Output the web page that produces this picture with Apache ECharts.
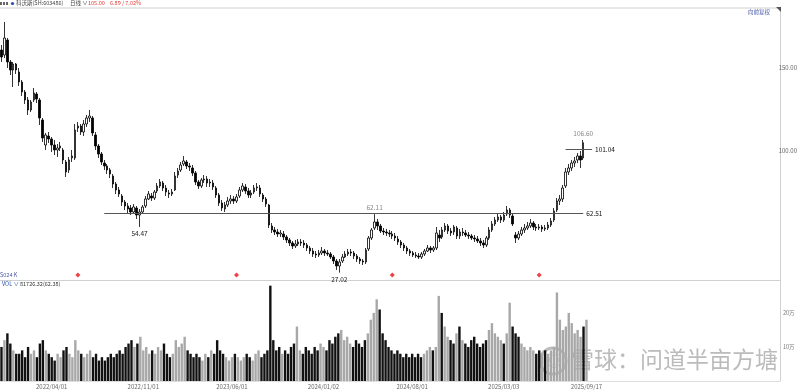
<!DOCTYPE html>
<html><head><meta charset="utf-8">
<script src="https://cdn.jsdelivr.net/npm/echarts@6/dist/echarts.min.js"></script>
<style>html,body{margin:0;padding:0;background:#fff}#c{width:800px;height:390px}</style>
</head><body><div id="c"></div>
<script>
// ---- data (weekly candles) ----
const startWeek = [2021, 10, 29];   // first week (Mon 2021-11-29)
const totalSlots = 264;              // week slots on the axis (data + empty right margin)
// [open, close, low, high]
const ohlc = [
[160.6,156.4,153.4,163.6],[157.6,167.8,155.8,177.4],[166.6,153.4,149.8,167.8],[153.4,148.6,145.6,154.6],[148.6,152.2,138.4,153.4],
[152.2,148.6,146.2,152.8],[147.4,141.4,139.0,149.8],[141.4,135.4,133.0,142.6],[135.4,130.6,128.2,136.6],[130.6,124.6,121.6,132.4],
[124.6,129.4,123.4,130.6],[130.6,134.8,129.4,137.8],[134.2,131.2,128.8,135.4],[130.6,119.8,115.6,131.8],[118.6,107.8,105.4,119.8],
[103.6,109.6,100.6,110.8],[109.0,107.2,104.8,111.4],[107.2,103.6,99.4,108.4],[103.6,100.6,97.6,106.6],[100.6,101.8,96.4,104.2],
[101.8,103.0,100.0,105.4],[100.6,94.6,92.2,101.8],[93.4,87.4,84.4,94.6],[88.6,94.6,86.8,96.4],[95.8,97.0,93.4,100.6],
[95.8,112.6,94.6,116.2],[113.8,115.0,111.4,117.4],[115.0,111.4,109.6,116.2],[111.4,116.2,109.0,118.6],[116.2,119.8,114.4,121.6],
[119.8,121.0,117.4,124.6],[119.8,110.8,109.0,121.0],[109.6,103.0,100.6,111.4],[103.0,98.2,95.8,104.2],[98.2,93.4,91.6,99.4],
[92.8,91.0,88.6,94.6],[91.0,88.6,86.2,92.2],[88.6,86.2,83.8,89.8],[85.0,80.2,77.8,86.2],[80.2,76.6,74.2,81.4],
[76.6,74.2,72.4,78.4],[73.0,69.4,67.0,74.2],[69.4,67.0,64.6,70.6],[67.0,65.2,62.8,68.8],[65.8,63.4,61.6,67.6],
[63.4,66.4,62.2,68.2],[65.8,61.6,59.2,67.0],[61.6,63.4,54.47,65.2],[63.4,66.4,62.2,67.6],[67.0,71.2,65.8,73.0],
[71.2,74.2,70.6,76.0],[73.0,71.8,70.0,74.8],[71.8,75.4,70.6,76.6],[76.0,79.0,74.8,80.8],[79.0,81.4,77.8,83.2],
[80.8,77.8,76.0,82.0],[77.8,75.4,73.0,79.6],[74.8,74.2,71.8,76.6],[74.2,75.4,73.0,77.2],[76.6,85.0,76.0,87.4],
[85.6,88.0,83.8,89.8],[88.6,91.6,87.4,93.4],[92.2,94.0,91.0,97.0],[93.4,91.0,89.2,94.6],[91.0,90.4,88.0,92.8],
[89.8,86.8,85.0,91.6],[86.8,81.4,79.6,88.0],[81.4,79.0,77.2,82.6],[79.0,82.6,77.8,83.8],[82.6,83.2,80.8,85.6],
[83.2,80.8,78.4,85.0],[80.8,81.4,78.4,83.2],[80.8,78.4,76.6,82.6],[77.8,73.6,71.8,79.0],[73.6,68.8,67.0,74.8],
[68.8,65.8,64.0,70.6],[65.2,67.6,63.4,69.4],[67.6,70.0,66.4,72.4],[70.0,71.2,68.2,73.6],[71.2,70.0,68.2,73.0],
[70.0,72.4,68.8,74.2],[73.0,76.6,71.8,78.4],[76.6,79.0,75.4,80.8],[78.4,76.0,74.2,80.2],[76.0,73.6,71.8,77.8],
[73.6,74.8,71.8,76.6],[75.4,77.8,74.2,79.6],[77.8,78.4,76.0,80.8],[77.8,74.2,72.4,79.6],[73.6,71.2,69.4,74.8],
[71.2,68.2,66.4,72.4],[67.6,55.6,53.8,68.2],[55.0,52.6,50.8,56.8],[52.6,51.4,49.6,54.4],[51.4,50.2,48.4,53.2],
[50.2,50.8,48.4,52.6],[50.2,48.4,46.6,52.0],[48.4,46.6,44.8,49.6],[46.6,44.8,43.0,47.8],[44.8,43.0,41.2,46.0],
[43.0,44.2,41.8,46.6],[44.2,45.4,43.0,47.2],[45.4,44.8,43.0,47.2],[44.8,43.6,41.8,46.6],[43.6,41.8,40.0,44.8],
[41.8,40.0,38.2,43.0],[40.0,38.2,36.4,41.8],[38.2,37.6,35.8,40.0],[37.6,38.8,36.4,40.6],[38.8,40.0,37.6,42.4],
[40.0,38.8,37.0,41.2],[38.8,38.2,37.0,40.6],[38.2,36.4,35.2,39.4],[36.4,34.0,32.2,37.6],[34.0,31.0,28.6,35.2],
[31.0,33.4,27.02,35.2],[34.0,36.4,32.8,38.2],[36.4,38.2,35.8,40.0],[38.2,39.4,37.0,41.2],[39.4,38.8,37.0,41.2],
[38.8,37.0,35.2,40.0],[37.0,35.2,33.4,38.2],[35.2,34.0,32.2,36.4],[34.0,33.4,31.6,35.2],[33.4,40.6,32.2,41.8],
[41.2,47.8,40.0,49.0],[47.8,52.6,46.6,53.8],[53.8,57.4,52.6,62.11],[57.4,55.0,52.6,59.2],[55.0,52.0,50.8,56.2],
[52.0,51.4,49.6,53.8],[51.4,50.8,49.0,53.2],[50.8,50.2,48.4,52.6],[50.2,49.0,47.2,52.0],[49.0,47.8,46.0,50.8],
[47.2,45.4,43.6,49.0],[45.4,43.6,41.8,46.6],[43.6,41.8,40.0,44.8],[41.8,40.0,38.2,43.0],[40.0,38.8,37.0,41.2],
[38.8,37.6,36.4,40.0],[37.6,37.0,35.8,39.4],[37.0,36.4,35.2,38.8],[36.4,38.2,35.2,39.4],[38.2,40.0,37.0,41.2],
[40.0,41.8,39.4,43.6],[41.8,40.6,38.8,43.0],[40.6,41.8,39.4,43.0],[41.8,50.8,40.6,54.4],[49.6,47.8,45.4,52.6],
[48.4,52.6,47.2,54.4],[52.6,55.0,51.4,56.8],[55.0,52.0,50.2,56.2],[52.0,50.8,49.0,53.8],[51.4,54.4,49.6,55.6],
[53.8,49.0,47.2,55.0],[49.0,51.4,47.2,53.2],[51.4,50.8,49.0,53.8],[50.8,49.6,48.4,52.6],[49.6,49.0,47.2,51.4],
[49.0,47.8,46.6,50.2],[47.8,47.2,45.4,49.6],[47.2,46.0,44.8,49.0],[46.0,44.8,43.0,47.8],[44.8,43.6,41.8,46.6],
[43.6,47.8,42.4,49.0],[47.8,52.6,46.6,54.4],[52.6,56.2,51.4,58.0],[56.2,58.6,55.0,60.4],[58.6,60.4,57.4,62.2],
[60.4,58.6,56.8,61.6],[58.6,61.6,57.4,63.4],[62.2,64.6,61.0,67.0],[64.6,61.6,59.8,65.8],[61.0,56.2,55.0,62.8],
[49.6,47.8,44.8,51.4],[47.8,50.2,46.6,52.0],[50.2,52.6,49.0,54.4],[52.6,53.8,50.8,56.2],[53.8,55.0,52.6,57.4],
[55.0,56.8,53.8,59.2],[56.8,54.4,52.6,58.0],[54.4,53.8,52.0,56.2],[53.8,54.4,52.6,56.2],[54.4,53.2,51.4,55.6],
[53.2,53.8,52.0,55.6],[53.8,55.6,52.6,57.4],[55.6,58.0,54.4,59.8],[58.6,64.0,57.4,65.8],[64.6,70.0,63.4,71.8],
[70.0,71.2,67.6,73.6],[71.2,77.8,69.4,79.6],[79.0,87.4,77.8,89.8],[87.4,89.8,85.6,92.2],[89.8,92.8,88.0,94.6],
[92.8,94.0,90.4,96.4],[94.6,97.0,92.8,98.8],[97.0,94.6,89.8,100.0],[95.8,105.0,94.6,106.6]
];
// typical daily volume for each week, in 万股
const volumeWan = [
10,12,14,11,9,8,
8,9,7,10,8,9,7,11,12,9,8,
7,6,8,7,9,10,8,7,12,9,8,7,8,9,
7,8,6,7,6,7,8,7,8,9,8,10,11,12,
10,11,13,9,10,8,9,8,10,9,11,8,7,8,
12,10,11,13,9,8,7,8,7,6,8,7,9,8,
12,9,8,7,6,7,8,7,6,7,8,7,6,8,9,7,8,9,
28,
12,9,10,8,9,8,10,11,16,9,8,10,9,8,10,9,11,10,9,12,11,13,
14,15,12,13,11,10,12,11,10,12,14,18,20,24,
21,14,12,10,9,8,9,8,7,8,7,8,7,8,7,8,9,10,9,10,
25,20,16,13,12,11,14,16,12,11,10,12,13,11,10,11,12,15,17,14,13,12,11,
14,23,16,14,13,11,10,9,10,9,8,9,8,9,8,9,10,
26,18,15,16,20,17,14,15,13,16,18
];
const tickLabels = ['2022/04/01','2022/11/01','2023/06/01','2024/01/02','2024/08/01','2025/03/03','2025/09/17'];
const priceTicks = [100, 150];
const volTicks = [100000, 200000];
const volTickText = ['10万', '20万'];
const eventWeeks = [26, 80, 133, 183];      // red diamond markers (week index)
const levelLines = [ {value: 62.51, from: 35, to: 198}, {value: 101.04, from: 192, to: 201} ];
const extremes = [
  {idx: 47, value: 54.47, pos: 'bottom', color: '#222'},
  {idx: 115, value: 27.02, pos: 'bottom', color: '#222'},
  {idx: 127, value: 62.11, pos: 'top', color: '#888'},
  {idx: 198, value: 106.60, pos: 'top', color: '#888'}
];

// ---- build categories (week starts) ----
function fmt(d){const m=d.getUTCMonth()+1, dd=d.getUTCDate();return d.getUTCFullYear()+'/'+(m<10?'0':'')+m+'/'+(dd<10?'0':'')+dd;}
const categories = [];
for (let i = 0; i < totalSlots; i++) {
  categories.push(fmt(new Date(Date.UTC(startWeek[0], startWeek[1], startWeek[2] + 7 * i))));
}
const tickMap = new Map();
tickLabels.forEach(t => {
  let idx = 0;
  for (let i = 0; i < categories.length; i++) { if (categories[i] <= t) idx = i; }
  tickMap.set(idx, t);
});

const volData = volumeWan.map((v, i) => ({
  value: v * 10000,
  itemStyle: { color: ohlc[i][1] >= ohlc[i][0] ? '#a8a8a8' : '#111' }
}));

const chart = echarts.init(document.getElementById('c'), null, {renderer: 'canvas'});
const FONT = '"Noto Sans CJK SC", "Noto Sans", sans-serif';
chart.setOption({
  animation: false,
  backgroundColor: '#fff',
  textStyle: {fontFamily: FONT},
  grid: [
    {left: 0, right: 20, top: 9.33, height: 266.67},
    {left: 0, right: 20, top: 285, height: 96}
  ],
  xAxis: [
    {type: 'category', gridIndex: 0, data: categories, boundaryGap: true,
     axisLine: {show: false}, axisTick: {show: false}, axisLabel: {show: false}, splitLine: {show: false}},
    {type: 'category', gridIndex: 1, data: categories, boundaryGap: true,
     axisLine: {show: true, lineStyle: {color: '#ddd'}}, axisTick: {show: false},
     axisLabel: {interval: (idx) => tickMap.has(idx), formatter: (v, idx) => tickMap.get(idx) || '',
                 fontSize: 6, color: '#666', margin: 3, fontFamily: FONT},
     splitLine: {show: false}}
  ],
  yAxis: [
    {type: 'value', gridIndex: 0, position: 'right', min: 25, max: 185, interval: 25,
     axisLine: {show: false}, axisTick: {show: false}, splitLine: {show: false},
     axisLabel: {formatter: v => priceTicks.includes(v) ? v.toFixed(2) : '', fontSize: 6, color: '#666', margin: 3, fontFamily: FONT}},
    {type: 'value', gridIndex: 1, position: 'right', min: 0, max: 282000, interval: 100000,
     axisLine: {show: false}, axisTick: {show: false}, splitLine: {show: false},
     axisLabel: {formatter: v => { const k = volTicks.indexOf(v); return k >= 0 ? volTickText[k] : ''; },
                 fontSize: 5.5, color: '#777', margin: 3, fontFamily: FONT}}
  ],
  series: [
    {type: 'candlestick', xAxisIndex: 0, yAxisIndex: 0, data: ohlc, barWidth: 2,
     itemStyle: {color: '#fff', color0: '#000', borderColor: '#000', borderColor0: '#000', borderWidth: 0.8},
     markLine: {silent: true, symbol: 'none',
       lineStyle: {color: '#555', width: 1, type: 'solid'},
       label: {show: false},
       data: levelLines.map(l => [
         {coord: [categories[l.from], l.value]},
         {coord: [categories[l.to], l.value], label: {show: true, position: 'end', formatter: l.value.toFixed(2), color: '#111', fontSize: 6.5, distance: 3}}
       ])},
     markPoint: {silent: true, symbol: 'circle', symbolSize: 1,
       itemStyle: {color: 'rgba(0,0,0,0)'},
       data: extremes.map(e => ({coord: [categories[e.idx], e.value],
         label: {show: true, position: e.pos, distance: 3, formatter: e.value.toFixed(2), color: e.color, fontSize: 6.5}}))}
    },
    {type: 'bar', xAxisIndex: 1, yAxisIndex: 1, data: volData, barWidth: 2.4},
    {type: 'scatter', xAxisIndex: 0, yAxisIndex: 0, symbol: 'diamond', symbolSize: 5,
     itemStyle: {color: '#e8131a'}, data: eventWeeks.map(i => [categories[i], 25.6])}
  ],
  graphic: [
    {type: 'line', shape: {x1: 0, y1: 8, x2: 780, y2: 8}, style: {stroke: '#d0d0d0', lineWidth: 1}},
    {type: 'line', shape: {x1: 780.5, y1: 8, x2: 780.5, y2: 381}, style: {stroke: '#d0d0d0', lineWidth: 1}},
    {type: 'line', shape: {x1: 0, y1: 280.5, x2: 780, y2: 280.5}, style: {stroke: '#d0d0d0', lineWidth: 1}},
    {type: 'polygon', shape: {points: [[776, 7], [781, 7], [781, 12]]}, style: {fill: '#555'}},
    {type: 'rect', shape: {x: 0, y: 2, width: 2, height: 3}, style: {fill: '#666'}},
    {type: 'rect', shape: {x: 3, y: 2, width: 2, height: 3}, style: {fill: '#666'}},
    {type: 'rect', shape: {x: 6, y: 2, width: 2, height: 3}, style: {fill: '#666'}},
    {type: 'circle', shape: {cx: 12.5, cy: 3.5, r: 1.6}, style: {fill: '#2450a8'}},
    {type: 'text', x: 16, y: 0.5, style: {text: '科沃斯(SH:603486)', fontSize: 5.5, fill: '#444', fontFamily: FONT}},
    {type: 'text', x: 70, y: 0.5, style: {text: '日线 ∨', fontSize: 5.5, fill: '#444', fontFamily: FONT}},
    {type: 'text', x: 88, y: 0.5, style: {text: '105.00', fontSize: 5.5, fill: '#e53935', fontFamily: FONT}},
    {type: 'text', x: 110, y: 0.5, style: {text: '6.89 / 7.02%', fontSize: 5.5, fill: '#e53935', fontFamily: FONT}},
    {type: 'text', x: 748, y: 9, style: {text: '向前复权', fontSize: 5.5, fill: '#4a5aa8', fontFamily: FONT}},
    {type: 'text', x: 0, y: 272, style: {text: 'S024 K', fontSize: 5.5, fill: '#4a5aa8', fontFamily: FONT}},
    {type: 'text', x: 2, y: 281, style: {text: 'VOL ∨', fontSize: 5.5, fill: '#2450a8', fontFamily: FONT}},
    {type: 'text', x: 20, y: 281, style: {text: '81726.32(62.38)', fontSize: 5.5, fill: '#333', fontFamily: FONT}},
    {type: 'rect', shape: {x: 535, y: 341, width: 244, height: 40}, style: {fill: 'rgba(255,255,255,0.55)'}},
    {type: 'circle', shape: {cx: 553, cy: 361, r: 13}, style: {fill: 'none', stroke: 'rgba(170,170,170,0.8)', lineWidth: 3}},
    {type: 'text', x: 546, y: 352, style: {text: '◎', fontSize: 16, fill: 'rgba(170,170,170,0.8)', fontFamily: FONT}},
    {type: 'text', x: 571, y: 348, style: {text: '雪球：问道半亩方塘', fontSize: 23, fill: 'rgba(175,175,175,0.85)', fontFamily: FONT}}
  ]
});
</script></body></html>
